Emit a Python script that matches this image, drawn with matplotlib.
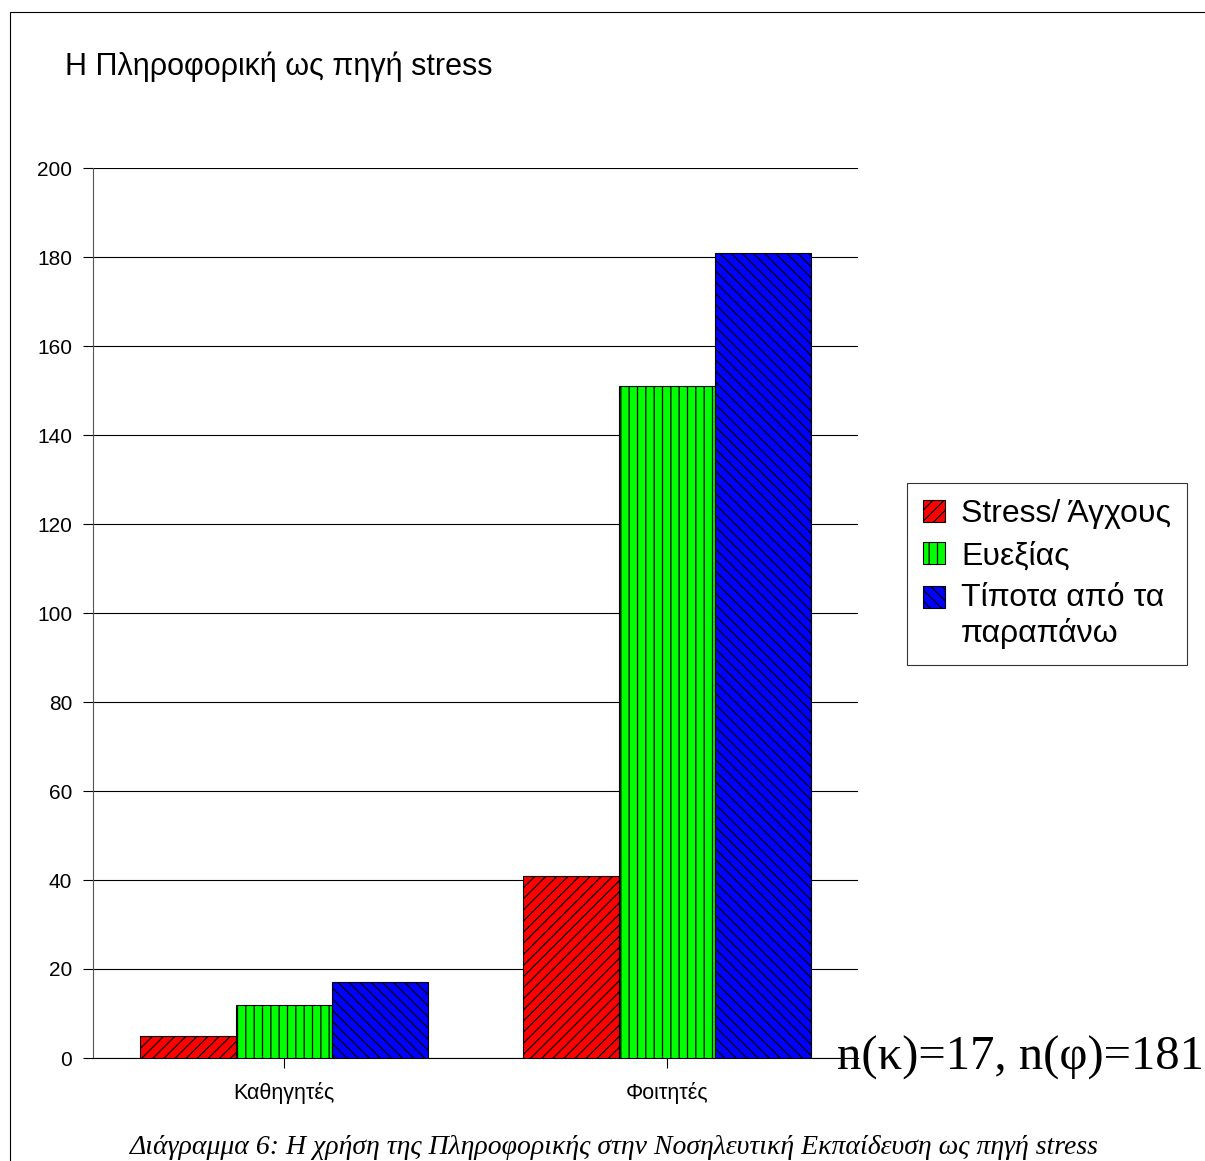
import matplotlib
matplotlib.use("Agg")
import matplotlib.pyplot as plt
from matplotlib.patches import Rectangle
from matplotlib.legend_handler import HandlerPatch
import numpy as np

# data
categories = ["Καθηγητές", "Φοιτητές"]
series_names = ["Stress/ Άγχους", "Ευεξίας", "Τίποτα από τα\nπαραπάνω"]
stress = [5, 41]
wellbeing = [12, 151]
nothing = [17, 181]
yticks = list(range(0, 201, 20))

colors = ["#ff0000", "#00ff00", "#0000ff"]
hatches = ["///", "||", "\\\\\\"]

plt.rcParams["font.family"] = ["Liberation Sans", "DejaVu Sans"]
plt.rcParams["hatch.linewidth"] = 0.9
plt.rcParams["hatch.color"] = "black"

fig = plt.figure(figsize=(12.05, 11.61), dpi=100)
ax = fig.add_axes([93 / 1205, 1 - 1058 / 1161, (858 - 93) / 1205, (1058 - 168) / 1161])

x = np.arange(len(categories))
w = 0.251
bars = []
for i, (vals, name) in enumerate(zip([stress, wellbeing, nothing], series_names)):
    b = ax.bar(x + (i - 1) * w, vals, w, color=colors[i], hatch=hatches[i],
               edgecolor="black", linewidth=0.8, label=name, zorder=3)
    bars.append(b)

ax.set_xlim(-0.5, 1.5)
ax.set_ylim(0, 200)
ax.set_yticks(yticks)
ax.set_xticks(x)
ax.set_xticklabels(categories, fontsize=15.5)
ax.tick_params(axis="y", labelsize=15, length=7, direction="out", pad=8)
ax.tick_params(axis="x", length=7, direction="out", pad=10)
ax.yaxis.grid(True, color="black", linewidth=0.8, zorder=0)
ax.set_axisbelow(True)
for s in ["top", "right"]:
    ax.spines[s].set_visible(False)
ax.spines["left"].set_color("#555555")
ax.spines["bottom"].set_color("black")

fig.text(65 / 1205, 1 - 67 / 1161, "Η Πληροφορική ως πηγή stress", fontsize=22,
         ha="left", va="center")


# legend square sits on the first line of a two-line label
def top_patch(legend, orig_handle, xdescent, ydescent, width, height, fontsize):
    return Rectangle((-xdescent, -ydescent + 0.6 * fontsize), width, height)


leg = fig.legend(handles=[b.patches[0] for b in bars], labels=series_names,
                 loc="upper left", bbox_to_anchor=(907 / 1205, 1 - 483 / 1161),
                 fontsize=23, frameon=True, fancybox=False, borderaxespad=0,
                 handlelength=0.7, handleheight=0.7, handletextpad=0.5,
                 labelspacing=0.38, borderpad=0.5,
                 handler_map={bars[2].patches[0]: HandlerPatch(patch_func=top_patch)})
leg.get_frame().set_edgecolor("black")
leg.get_frame().set_linewidth(0.8)

fig.text(1204 / 1205, 1 - 1058 / 1161, "n(κ)=17, n(φ)=181", fontsize=35,
         family=["Liberation Serif", "DejaVu Serif"], ha="right", va="center")

fig.text(614 / 1205, 1 - 1147 / 1161,
         "Διάγραμμα 6: Η χρήση της Πληροφορικής στην Νοσηλευτική Εκπαίδευση ως πηγή stress",
         fontsize=20, style="italic", family=["Liberation Serif", "DejaVu Serif"],
         ha="center", va="center")

fig.patches.append(Rectangle((10 / 1205, -0.05), 1.2, 1.05 - 12 / 1161, transform=fig.transFigure,
                             fill=False, edgecolor="black", linewidth=0.8))

fig.savefig("out.png", dpi=100)
